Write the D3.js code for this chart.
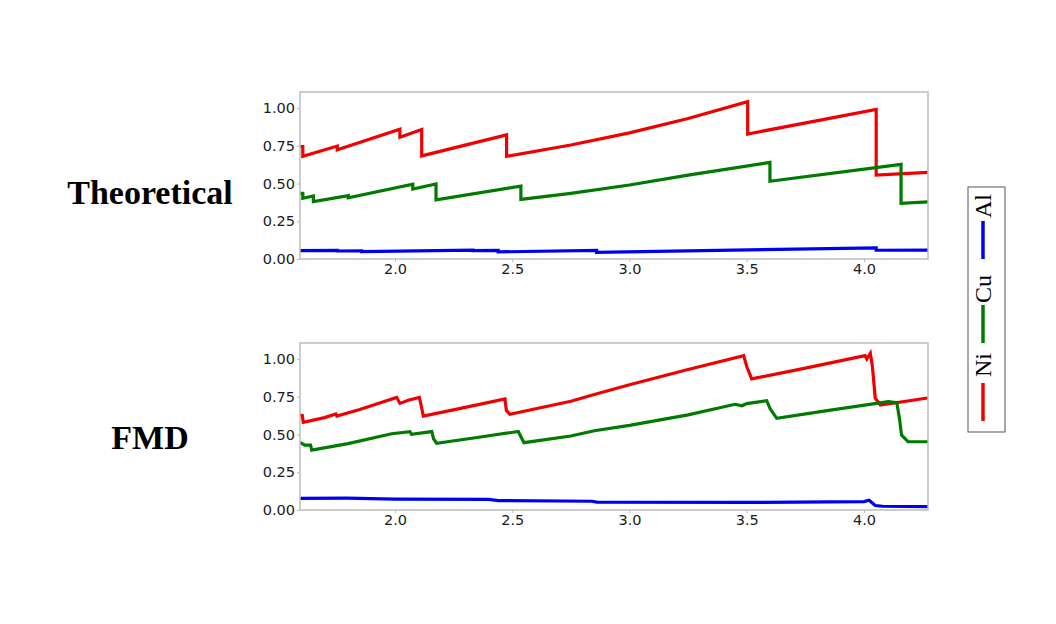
<!DOCTYPE html>
<html>
<head>
<meta charset="utf-8">
<script src="https://cdn.jsdelivr.net/npm/d3@7"></script>
<style>
  body { margin: 0; background: #fff; }
  svg { display: block; }
  .tick text { font-family: "DejaVu Sans", sans-serif; font-size: 14.5px; fill: #1a1a1a; }
</style>
</head>
<body>
<svg id="chart" width="1056" height="624"></svg>
<script>
// elements shown in both panels
const elements = ['Ni', 'Cu', 'Al'];
const xTicks = [2.0, 2.5, 3.0, 3.5, 4.0];
const yTicks = [0, 0.25, 0.5, 0.75, 1.0];

// theoretical composition, [position, fraction]
const theoNi = [[1.595, 0.745], [1.607, 0.745], [1.607, 0.680], [1.754, 0.748], [1.754, 0.724],
  [2.021, 0.860], [2.021, 0.806], [2.114, 0.858], [2.114, 0.683], [2.476, 0.822], [2.476, 0.680],
  [2.75, 0.755], [3.0, 0.835], [3.25, 0.93], [3.504, 1.042], [3.504, 0.828], [4.052, 0.99],
  [4.052, 0.556], [4.273, 0.574]];
const theoCu = [[1.595, 0.435], [1.607, 0.435], [1.607, 0.402], [1.652, 0.417], [1.652, 0.38],
  [1.801, 0.419], [1.801, 0.406], [2.076, 0.495], [2.076, 0.463], [2.175, 0.497], [2.175, 0.392],
  [2.537, 0.483], [2.537, 0.395], [2.75, 0.435], [3.0, 0.49], [3.25, 0.555], [3.599, 0.64],
  [3.599, 0.515], [4.158, 0.627], [4.158, 0.369], [4.273, 0.378]];
const theoAl = [[1.595, 0.055], [1.754, 0.057], [1.754, 0.053], [1.858, 0.054], [1.858, 0.049],
  [2.333, 0.058], [2.333, 0.055], [2.44, 0.057], [2.44, 0.047], [2.86, 0.057], [2.86, 0.044],
  [4.052, 0.074], [4.052, 0.058], [4.273, 0.059]];

// FMD measured composition
const fmdNi = [[1.595, 0.629], [1.605, 0.625], [1.609, 0.581], [1.70, 0.612], [1.748, 0.636],
  [1.752, 0.622], [1.85, 0.665], [2.007, 0.746], [2.021, 0.706], [2.06, 0.728], [2.104, 0.746],
  [2.112, 0.69], [2.121, 0.622], [2.30, 0.68], [2.469, 0.735], [2.475, 0.66], [2.49, 0.634],
  [2.75, 0.72], [2.85, 0.765], [3.0, 0.83], [3.25, 0.93], [3.487, 1.022], [3.50, 0.95],
  [3.521, 0.868], [3.75, 0.94], [4.005, 1.022], [4.012, 1.0], [4.027, 1.038], [4.036, 0.95],
  [4.048, 0.74], [4.07, 0.695], [4.264, 0.74], [4.273, 0.742]];
const fmdCu = [[1.595, 0.448], [1.616, 0.43], [1.64, 0.43], [1.645, 0.397], [1.80, 0.44],
  [1.986, 0.505], [2.064, 0.519], [2.07, 0.501], [2.157, 0.519], [2.165, 0.47], [2.178, 0.442],
  [2.35, 0.48], [2.526, 0.52], [2.55, 0.446], [2.75, 0.49], [2.85, 0.525], [3.0, 0.56],
  [3.25, 0.63], [3.45, 0.70], [3.48, 0.69], [3.50, 0.705], [3.585, 0.724], [3.60, 0.67],
  [3.628, 0.607], [3.85, 0.66], [4.104, 0.717], [4.14, 0.71], [4.152, 0.60], [4.16, 0.497],
  [4.188, 0.452], [4.273, 0.452]];
const fmdAl = [[1.595, 0.077], [1.794, 0.078], [2.0, 0.072], [2.4, 0.07], [2.44, 0.062],
  [2.84, 0.058], [2.86, 0.052], [3.5, 0.05], [4.0, 0.056], [4.022, 0.065], [4.048, 0.03],
  [4.08, 0.025], [4.273, 0.022]];

const color = d3.scaleOrdinal().domain(elements).range(['#f00000', '#007a00', '#0000f0']);

const svg = d3.select('#chart');

const panels = [
  {title: 'Theoretical', top: 92, series: [theoNi, theoCu, theoAl], titleY: 204},
  {title: 'FMD', top: 343, series: [fmdNi, fmdCu, fmdAl], titleY: 449}
];

const left = 300, right = 928, plotH = 167;

panels.forEach(function (p) {
  let x = d3.scaleLinear().domain([1.595, 4.273]).range([left, right]);
  let y = d3.scaleLinear().domain([0, 1.106]).range([p.top + plotH, p.top]);
  let g = svg.append('g');

  let line = d3.line().x(d => x(d[0])).y(d => y(d[1]));

  g.append('defs').append('clipPath').attr('id', 'clip-' + p.title)
    .append('rect').attr('x', left).attr('y', p.top).attr('width', right - left).attr('height', plotH);

  p.series.forEach(function (s, i) {
    g.append('path')
      .datum(s)
      .attr('clip-path', 'url(#clip-' + p.title + ')')
      .attr('d', line)
      .attr('fill', 'none')
      .attr('stroke', color(elements[i]))
      .attr('stroke-width', 3.2)
      .attr('stroke-linejoin', 'miter');
  });

  let xAxis = g.append('g')
    .attr('transform', 'translate(0,' + (p.top + plotH) + ')')
    .call(d3.axisBottom(x).tickValues(xTicks).tickFormat(d3.format('.1f')).tickSize(3).tickPadding(2));
  let yAxis = g.append('g')
    .attr('transform', 'translate(' + left + ',0)')
    .call(d3.axisLeft(y).tickValues(yTicks).tickFormat(d3.format('.2f')).tickSize(3).tickPadding(2));
  [xAxis, yAxis].forEach(function (a) {
    a.select('.domain').remove();
    a.selectAll('.tick line').attr('stroke', '#bbb');
  });

  // frame
  g.append('rect')
    .attr('x', left).attr('y', p.top)
    .attr('width', right - left).attr('height', plotH)
    .attr('fill', 'none')
    .attr('stroke', '#bdbdbd')
    .attr('stroke-width', 1.5);

  g.append('text')
    .attr('x', 150).attr('y', p.titleY)
    .attr('text-anchor', 'middle')
    .attr('font-family', '"Liberation Serif", "Times New Roman", serif')
    .attr('font-weight', 'bold')
    .attr('font-size', 34)
    .text(p.title);
});

// legend, rotated
const legend = svg.append('g');
legend.append('rect')
  .attr('x', 968).attr('y', 187).attr('width', 37).attr('height', 245)
  .attr('fill', '#fff').attr('stroke', '#555').attr('stroke-width', 1);

const legendLineTop = {Ni: 383, Cu: 305, Al: 221};
const legendTextMid = {Ni: 365, Cu: 289, Al: 206};
elements.forEach(function (name) {
  legend.append('line')
    .attr('x1', 983).attr('x2', 983)
    .attr('y1', legendLineTop[name]).attr('y2', legendLineTop[name] + 38)
    .attr('stroke', color(name)).attr('stroke-width', 3.5);
  legend.append('text')
    .attr('transform', 'translate(991,' + legendTextMid[name] + ') rotate(-90)')
    .attr('text-anchor', 'middle')
    .attr('font-family', '"Liberation Serif", "Times New Roman", serif')
    .attr('font-size', 24)
    .text(name);
});
</script>
</body>
</html>
